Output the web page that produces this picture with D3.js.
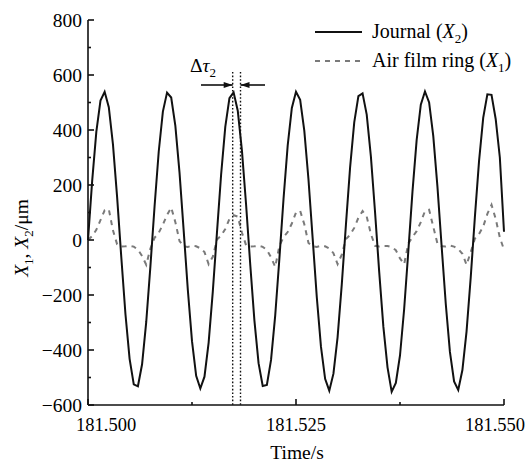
<!DOCTYPE html>
<html><head><meta charset="utf-8">
<script src="https://cdn.jsdelivr.net/npm/d3@7"></script>
<style>body{margin:0;background:#fff}svg{display:block}text{font-family:"Liberation Serif","Times New Roman",serif;fill:#000}</style>
</head><body>
<svg id="c" width="530" height="464"></svg>
<script>
const time = [181.5000,181.5005,181.5010,181.5015,181.5020,181.5025,181.5030,181.5035,181.5040,181.5045,
181.5050,181.5055,181.5060,181.5065,181.5070,181.5075,181.5080,181.5085,181.5090,181.5095,
181.5100,181.5105,181.5110,181.5115,181.5120,181.5125,181.5130,181.5135,181.5140,181.5145,
181.5150,181.5155,181.5160,181.5165,181.5170,181.5175,181.5180,181.5185,181.5190,181.5195,
181.5200,181.5205,181.5210,181.5215,181.5220,181.5225,181.5230,181.5235,181.5240,181.5245,
181.5250,181.5255,181.5260,181.5265,181.5270,181.5275,181.5280,181.5285,181.5290,181.5295,
181.5300,181.5305,181.5310,181.5315,181.5320,181.5325,181.5330,181.5335,181.5340,181.5345,
181.5350,181.5355,181.5360,181.5365,181.5370,181.5375,181.5380,181.5385,181.5390,181.5395,
181.5400,181.5405,181.5410,181.5415,181.5420,181.5425,181.5430,181.5435,181.5440,181.5445,
181.5450,181.5455,181.5460,181.5465,181.5470,181.5475,181.5480,181.5485,181.5490,181.5495,181.5500];
const journalX2 = [0,214,393,507,539,483,348,156,-62,-269,
-432,-525,-532,-452,-298,-96,122,321,467,536,
518,415,245,34,-182,-368,-494,-540,-497,-373,
-188,27,238,411,516,537,470,326,129,-89,
-292,-448,-531,-527,-436,-275,-69,149,343,480,
539,510,397,220,7,-208,-388,-505,-548,-486,
-353,-162,55,263,428,523,533,456,304,102,
-116,-315,-463,-552,-520,-420,-251,-41,176,363,
492,540,500,378,194,-21,-232,-407,-514,-545,
-473,-332,-136,83,287,444,530,528,440,300,30];
const ringX1 = [0,14,37,72,108,112,35,-16,-24,-23,
-21,-24,-35,-58,-90,-31,8,26,56,91,
118,65,-4,-23,-25,-21,-23,-30,-44,-88,
-61,2,16,40,77,90,85,27,-19,-24,
-23,-21,-25,-36,-63,-98,-22,10,29,60,
100,106,57,-11,-23,-25,-21,-23,-31,-48,
-88,-53,3,19,44,81,105,85,22,-21,
-24,-22,-22,-26,-37,-67,-88,-13,11,32,
65,105,110,48,-13,-23,-24,-20,-24,-33,
-50,-90,-44,5,22,49,95,128,77,9,-35];
const xTicks = [181.500, 181.525, 181.550];
const xMinorTicks = [181.5125, 181.5375];
const yTicks = [-600,-400,-200,0,200,400,600,800];
const yMinorTicks = [-500,-300,-100,100,300,500,700];
const deltaTau = [181.51739, 181.51833];

const svg = d3.select("#c");
const x = d3.scaleLinear().domain([181.5, 181.55]).range([88, 504]);
const y = d3.scaleLinear().domain([-600, 800]).range([405, 20]);

// series
const line = d3.line().x((d,i)=>x(time[i])).y(d=>y(d));
svg.append("path").datum(ringX1).attr("d", line).attr("fill","none")
  .attr("stroke","#7a7a7a").attr("stroke-width",2).attr("stroke-dasharray","5,5");
svg.append("path").datum(journalX2).attr("d", line).attr("fill","none")
  .attr("stroke","#111").attr("stroke-width",2);

// axes
const ax = svg.append("g").attr("stroke","#111").attr("stroke-width",1.6);
ax.append("line").attr("x1",x(181.5)).attr("x2",x(181.55)).attr("y1",405).attr("y2",405);
ax.append("line").attr("x1",88).attr("x2",88).attr("y1",y(800)).attr("y2",405);
xTicks.forEach(t=>ax.append("line").attr("x1",x(t)).attr("x2",x(t)).attr("y1",405).attr("y2",399));
xMinorTicks.forEach(t=>ax.append("line").attr("x1",x(t)).attr("x2",x(t)).attr("y1",405).attr("y2",402));
yTicks.forEach(t=>ax.append("line").attr("x1",88).attr("x2",94).attr("y1",y(t)).attr("y2",y(t)));
yMinorTicks.forEach(t=>ax.append("line").attr("x1",88).attr("x2",91).attr("y1",y(t)).attr("y2",y(t)));

svg.selectAll(".xl").data(xTicks).enter().append("text")
  .attr("x",(d,i)=> i===0 ? 76 : i===xTicks.length-1 ? 525 : x(d))
  .attr("y",431)
  .attr("text-anchor",(d,i)=> i===0 ? "start" : i===xTicks.length-1 ? "end" : "middle")
  .attr("font-size",18.5)
  .text(d=>d.toFixed(3));
svg.selectAll(".yl").data(yTicks).enter().append("text")
  .attr("x",82).attr("y",d=>y(d)+6.5).attr("text-anchor","end").attr("font-size",19.5)
  .text(d=>d<0?"\u2212"+Math.abs(d):d);
svg.append("text").attr("x",297).attr("y",459).attr("text-anchor","middle").attr("font-size",19.5).text("Time/s");

const yl = svg.append("text").attr("transform","translate(28,238) rotate(-90)")
  .attr("text-anchor","middle").attr("font-size",19.5);
yl.append("tspan").attr("font-style","italic").text("X");
yl.append("tspan").attr("font-size",13).attr("dy",5).text("1");
yl.append("tspan").attr("dy",-5).text(", ");
yl.append("tspan").attr("font-style","italic").text("X");
yl.append("tspan").attr("font-size",13).attr("dy",5).text("2");
yl.append("tspan").attr("dy",-5).text("/\u03bcm");

// Delta tau annotation
deltaTau.forEach(t=>svg.append("line").attr("x1",x(t)).attr("x2",x(t)).attr("y1",72).attr("y2",405)
  .attr("stroke","#111").attr("stroke-width",1.4).attr("stroke-dasharray","1.6,2"));
const ay = 85;
svg.append("line").attr("x1",201).attr("x2",x(deltaTau[0])).attr("y1",ay).attr("y2",ay).attr("stroke","#111").attr("stroke-width",1.6);
svg.append("line").attr("x1",x(deltaTau[1])).attr("x2",265).attr("y1",ay).attr("y2",ay).attr("stroke","#111").attr("stroke-width",1.6);
const x0 = x(deltaTau[0]), x1 = x(deltaTau[1]);
svg.append("path").attr("d",`M${x0},${ay} L${x0-9},${ay-3} L${x0-9},${ay+3} Z`).attr("fill","#111");
svg.append("path").attr("d",`M${x1},${ay} L${x1+9},${ay-3} L${x1+9},${ay+3} Z`).attr("fill","#111");
const dt = svg.append("text").attr("x",190).attr("y",72).attr("font-size",19.5);
dt.append("tspan").text("\u0394");
dt.append("tspan").attr("font-style","italic").text("\u03c4");
dt.append("tspan").attr("font-size",13).attr("dy",5).text("2");

// legend
svg.append("line").attr("x1",315).attr("x2",362).attr("y1",32).attr("y2",32).attr("stroke","#111").attr("stroke-width",2);
svg.append("line").attr("x1",315).attr("x2",362).attr("y1",61).attr("y2",61).attr("stroke","#7a7a7a").attr("stroke-width",2).attr("stroke-dasharray","5,5");
function legText(yb, label, sub){
  const t = svg.append("text").attr("x",372).attr("y",yb).attr("font-size",20);
  t.append("tspan").text(label+" (");
  t.append("tspan").attr("font-style","italic").text("X");
  t.append("tspan").attr("font-size",13).attr("dy",5).text(sub);
  t.append("tspan").attr("dy",-5).text(")");
}
legText(38, "Journal", "2");
legText(67, "Air film ring", "1");
</script>
</body></html>
